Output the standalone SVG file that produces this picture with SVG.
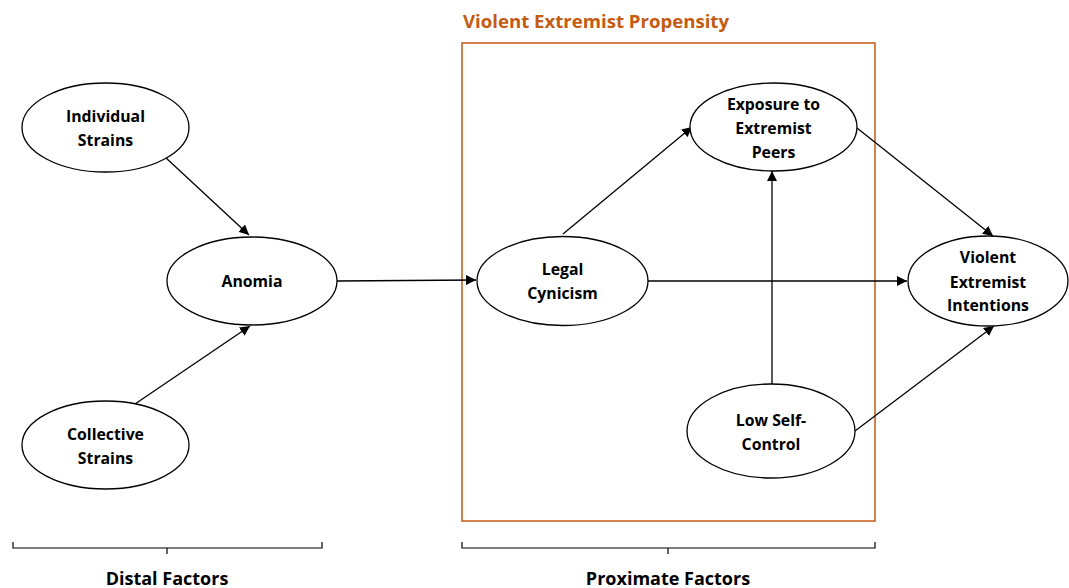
<svg xmlns="http://www.w3.org/2000/svg" width="1069" height="588" viewBox="0 0 1069 588">
  <style>
    .node { fill: #ffffff; stroke: #000000; stroke-width: 1.3; }
    .lbl { font-family: "Open Sans", "Liberation Sans", sans-serif; font-weight: bold; font-size: 15.8px; fill: #000000; text-anchor: middle; }
    .edge { stroke: #000000; stroke-width: 1.3; fill: none; marker-end: url(#arrow); }
    .brace { stroke: #000000; stroke-width: 1.2; fill: none; }
    .cap { font-family: "Open Sans", "Liberation Sans", sans-serif; font-weight: bold; font-size: 18px; fill: #000000; text-anchor: middle; }
    .title { font-family: "Open Sans", "Liberation Sans", sans-serif; font-weight: bold; font-size: 18.6px; fill: #c55a11; }
  </style>
  <defs>
    <marker id="arrow" viewBox="0 0 10 10" refX="10" refY="5" markerWidth="10" markerHeight="10" markerUnits="userSpaceOnUse" orient="auto">
      <path d="M0,0 L10,5 L0,10 Z" fill="#000000"/>
    </marker>
  </defs>

  <rect width="1069" height="588" fill="#ffffff"/>

  <!-- propensity frame -->
  <g id="propensity">
    <text class="title" x="463" y="27.5">Violent Extremist Propensity</text>
    <rect x="462" y="43" width="413" height="478" fill="none" stroke="#c55a11" stroke-width="1.5"/>
  </g>

  <!-- connectors -->
  <g id="connectors">
    <line class="edge" x1="165" y1="157" x2="249" y2="235"/>
    <line class="edge" x1="135" y1="404" x2="250" y2="326"/>
    <line class="edge" x1="337" y1="281" x2="476" y2="280"/>
    <line class="edge" x1="563" y1="234" x2="692" y2="127"/>
    <line class="edge" x1="648" y1="281" x2="907" y2="281"/>
    <line class="edge" x1="857" y1="128" x2="993" y2="236"/>
    <line class="edge" x1="772" y1="384" x2="772" y2="171"/>
    <line class="edge" x1="855" y1="431" x2="994" y2="326"/>
  </g>

  <g id="individual-strains">
    <ellipse class="node" cx="105.5" cy="127.5" rx="83.5" ry="44.5"/>
    <text class="lbl" x="105.5" y="122">Individual</text>
    <text class="lbl" x="105.5" y="145.5">Strains</text>
  </g>

  <g id="collective-strains">
    <ellipse class="node" cx="105.5" cy="445" rx="83.5" ry="44"/>
    <text class="lbl" x="105.5" y="440">Collective</text>
    <text class="lbl" x="105.5" y="464">Strains</text>
  </g>

  <g id="anomia">
    <ellipse class="node" cx="252" cy="281" rx="85" ry="44"/>
    <text class="lbl" x="252" y="287">Anomia</text>
  </g>

  <g id="legal-cynicism">
    <ellipse class="node" cx="562.5" cy="281" rx="85.5" ry="44.5"/>
    <text class="lbl" x="562.5" y="275">Legal</text>
    <text class="lbl" x="562.5" y="299">Cynicism</text>
  </g>

  <g id="exposure">
    <ellipse class="node" cx="773.5" cy="127" rx="83.5" ry="44"/>
    <text class="lbl" x="773.5" y="110">Exposure to</text>
    <text class="lbl" x="773.5" y="134">Extremist</text>
    <text class="lbl" x="773.5" y="158">Peers</text>
  </g>

  <g id="low-self-control">
    <ellipse class="node" cx="771" cy="431" rx="84" ry="47"/>
    <text class="lbl" x="771" y="426">Low Self-</text>
    <text class="lbl" x="771" y="450">Control</text>
  </g>

  <g id="intentions">
    <ellipse class="node" cx="988" cy="281" rx="80" ry="45"/>
    <text class="lbl" x="988" y="263">Violent</text>
    <text class="lbl" x="988" y="287.5">Extremist</text>
    <text class="lbl" x="988" y="311">Intentions</text>
  </g>

  <!-- factor brackets -->
  <g id="distal">
    <path class="brace" d="M13,542 L13,548 L322,548 L322,542 M167,548 L167,554"/>
    <text class="cap" x="167" y="585">Distal Factors</text>
  </g>
  <g id="proximate">
    <path class="brace" d="M462,542 L462,548 L875,548 L875,542 M668,548 L668,554"/>
    <text class="cap" x="668" y="585">Proximate Factors</text>
  </g>
</svg>
